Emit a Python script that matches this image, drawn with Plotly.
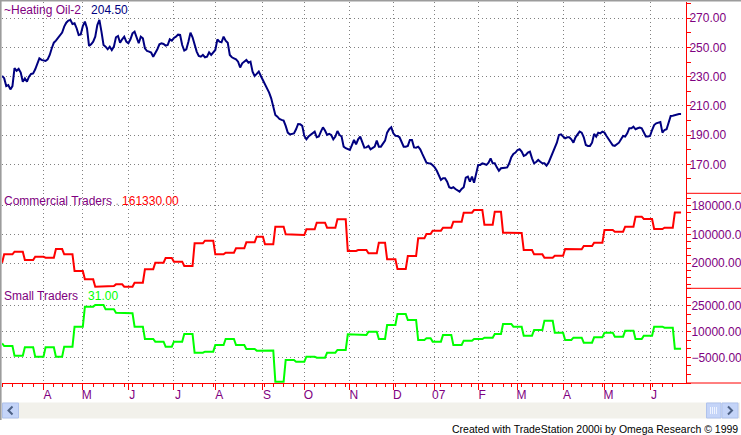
import numpy as np
import pandas as pd
import plotly.graph_objects as go

# ---------------- data ----------------
# daily Heating Oil #2 closes (cents/gal), one per trading day from 2006-03-06
heating_oil = [
    230.5, 229.0, 223.6, 224.3, 221.3, 223.6, 235.8, 234.0, 235.3, 232.8,
    226.6, 228.9, 226.6, 230.0, 231.9, 232.3, 235.1, 239.6, 242.6, 241.5,
    241.0, 240.8, 241.9, 244.9, 249.5, 253.3, 254.7, 256.3, 257.9, 260.2,
    264.3, 267.0, 268.4, 268.9, 266.1, 266.6, 263.2, 258.6, 259.0, 264.7,
    267.7, 263.2, 251.1, 252.2, 254.0, 257.4, 265.4, 268.9, 260.9, 251.7,
    250.6, 248.8, 250.6, 248.3, 250.6, 257.0, 257.9, 253.3, 255.6, 257.4,
    254.0, 252.9, 255.6, 259.7, 260.9, 257.4, 252.9, 257.4, 256.3, 249.5,
    247.6, 247.2, 246.5, 243.7, 246.0, 248.8, 252.2, 252.9, 252.4, 251.3,
    251.7, 255.6, 254.7, 256.5, 257.4, 258.8, 258.6, 251.7, 247.9, 248.8,
    254.0, 260.2, 257.0, 251.7, 247.2, 244.2, 243.7, 244.9, 243.3, 243.7,
    246.7, 244.9, 246.5, 248.3, 255.6, 254.0, 253.6, 257.4, 254.7, 253.3,
    244.9, 243.3, 242.6, 241.9, 240.3, 236.3, 239.2, 240.3, 241.5, 239.6,
    240.3, 233.5, 230.5, 231.9, 233.5, 230.5, 227.8, 225.5, 222.7, 219.1,
    215.2, 209.5, 203.8, 202.6, 201.0, 200.4, 199.9, 196.3, 191.7, 190.5,
    190.8, 191.2, 194.0, 197.6, 197.4, 196.3, 189.4, 187.1, 189.0, 190.1,
    191.7, 192.4, 188.5, 189.0, 192.4, 195.3, 193.1, 190.1, 190.8, 190.1,
    187.1, 189.0, 192.8, 190.1, 189.0, 182.1, 181.0, 180.3, 179.8, 183.2,
    186.7, 183.7, 187.1, 189.0, 185.5, 181.4, 181.6, 182.6, 180.3, 181.0,
    182.1, 186.2, 182.1, 182.1, 183.9, 186.2, 191.7, 194.0, 195.3, 191.2,
    189.6, 189.4, 188.5, 185.5, 182.1, 182.1, 182.6, 186.7, 186.7, 181.6,
    181.4, 182.1, 180.3, 177.1, 173.4, 171.1, 170.7, 170.5, 169.3, 167.9,
    165.6, 162.9, 159.3, 160.4, 160.4, 158.1, 154.3, 153.6, 154.3, 153.1,
    152.0, 151.3, 153.1, 154.3, 160.9, 161.6, 158.1, 161.6, 157.4, 163.8,
    169.6, 169.6, 170.7, 170.2, 169.6, 171.1, 174.1, 170.7, 170.7, 167.9,
    165.6, 167.3, 167.7, 167.7, 167.9, 170.7, 174.8, 177.1, 178.0, 179.8,
    180.3, 178.7, 175.7, 176.4, 178.0, 178.7, 174.1, 170.7, 171.6, 173.0,
    171.8, 170.7, 170.7, 169.1, 171.1, 174.8, 178.7, 182.1, 184.8, 190.1,
    190.5, 189.0, 187.8, 188.5, 188.5, 187.1, 184.8, 188.5, 190.5, 192.4,
    191.7, 188.5, 183.2, 182.6, 182.6, 184.8, 190.8, 189.0, 191.7, 191.2,
    192.4, 191.7, 189.4, 186.7, 185.1, 183.0, 182.6, 183.7, 184.8, 187.1,
    189.4, 189.0, 191.2, 194.7, 194.7, 195.8, 194.0, 194.7, 195.1, 194.7,
    191.7, 189.0, 189.0, 189.4, 193.5, 196.9, 198.1, 198.5, 199.0, 191.7,
    193.5, 194.0, 199.2, 203.1, 203.3, 203.8, 204.2, 204.5, 204.5,
]

# weekly COT net positions (first value = report in force at the start)
commercial_weekly = [
    20900, 44190, 51630, 28380, 37680, 34890, 59070, 44190, -2320, -25570,
    -46040, -44180, -39530, -46040, -34880, 2330, 20940, 33960, 23730, 11630,
    74890, 82330, 44190, 48840, 60930, 77680, 93490, 72100, 121400, 100000,
    98140, 113960, 132560, 118610, 141860, 53490, 56280, 46980, 76750, 30240,
    3260, 39540, 88840, 100930, 110240, 118610, 135350, 160470, 167910, 126980,
    163260, 104650, 103800, 56280, 44190, 34890, 40470, 59070, 58600, 67450,
    76750, 112100, 107440, 121400, 149300, 142790, 114890, 118610, 161330,
]
small_weekly = [
    3180, 1620, -4030, 850, -4610, 850, -4610, 1230, 12920, 24610,
    25580, 23050, 21100, 20710, 12920, 5710, 4160, 1230, 4160, 8640,
    -2270, -1690, 2210, 5710, 2210, -130, -1100, -1000, -19220, -6560,
    -7530, -4610, -5190, -2270, -710, 8440, 8050, 10000, 5710, 13900,
    20320, 16820, 5130, 6100, 4160, 8050, 2210, 4740, 5710, 6490,
    8640, 14480, 12920, 7660, 10970, 16430, 9420, 5130, 6490, 3570,
    6690, 9420, 7080, 10580, 5710, 7660, 12920, 12340, 31,
]

month_labels = ["A", "M", "J", "J", "A", "S", "O", "N", "D", "07", "F", "M", "A", "M", "J"]
price_ticks = [170, 190, 210, 230, 250, 270]
comm_ticks = [20000, 100000, 180000]
small_ticks = [-5000, 10000, 25000]

start_date = "2006-03-06"
holidays = ["2006-04-14", "2006-05-29", "2006-07-04", "2006-09-04", "2006-11-23",
            "2006-12-25", "2007-01-01", "2007-01-02", "2007-02-19", "2007-04-06",
            "2007-05-28"]

# ---------------- calendar ----------------
days = pd.bdate_range(start_date, periods=420)
days = days[~days.isin(pd.to_datetime(holidays))][:len(heating_oil)]
idx = np.arange(len(days))

mkey = days.year * 12 + days.month
month_starts = [i for i in range(1, len(days)) if mkey[i] != mkey[i - 1]]
wkey = (days - days[0]).days // 7
week_starts = [0] + [i for i in range(1, len(days)) if wkey[i] != wkey[i - 1]]

tuesdays = pd.date_range(days[0], days[-1], freq="W-TUE")
anchors = np.array([days.searchsorted(t, side="right") - 1 for t in tuesdays])
wk = np.searchsorted(anchors, idx, side="right")
commercial = np.array(commercial_weekly)[np.minimum(wk, len(commercial_weekly) - 1)]
small = np.array(small_weekly)[np.minimum(wk, len(small_weekly) - 1)]

# ---------------- geometry ----------------
W, H = 741, 435
L, R, T, B = 2, 686, 2, 383
def px_x(x):
    return (x - L) / (R - L)
def px_y(y):
    return (B - y) / (B - T)

sep1, sep2 = 193.3, 288.3
d1, d2 = px_y(sep1), px_y(sep2)

RED = "#FF0000"
PURPLE = "#800080"
GRID = "#808080"
FONT = "Liberation Sans, Arial, sans-serif"

fig = go.Figure()
fig.add_trace(go.Scatter(x=idx, y=heating_oil, mode="lines", yaxis="y",
                         line=dict(color="#000080", width=2), hoverinfo="skip"))
fig.add_trace(go.Scatter(x=idx, y=commercial, mode="lines", yaxis="y2",
                         line=dict(color=RED, width=2), hoverinfo="skip"))
fig.add_trace(go.Scatter(x=idx, y=small, mode="lines", yaxis="y3",
                         line=dict(color="#00FF00", width=2), hoverinfo="skip"))
# empty traces so that the tick-mark overlay axes get drawn
for xa, ya in (("x", "y4"), ("x", "y5"), ("x", "y6"), ("x2", "y3")):
    fig.add_trace(go.Scatter(x=[], y=[], xaxis=xa, yaxis=ya, mode="lines",
                             hoverinfo="skip", showlegend=False))

# label axes (no tick marks, so labels sit close to the scale line)
def yax(domain, rng, ticks, standoff):
    return dict(domain=domain, range=rng, side="right", anchor="x",
                automargin=False,
                tickmode="array", tickvals=ticks, tickformat=".2f",
                ticks="", ticklabelstandoff=standoff,
                showline=True, linecolor=RED, linewidth=1,
                showgrid=True, gridcolor=GRID, griddash="1px,3px", gridwidth=1,
                zeroline=False, fixedrange=True,
                tickfont=dict(family=FONT, size=12, color=PURPLE))

# tick-mark axes overlaying the label axes
def ytk(base, rng, ticks, minor_step):
    return dict(overlaying=base, range=rng, side="right", anchor="x",
                automargin=False, showticklabels=False, showgrid=False,
                showline=False, zeroline=False, fixedrange=True,
                tickmode="array", tickvals=ticks,
                ticks="outside", ticklen=4, tickwidth=1, tickcolor=RED,
                minor=dict(tickmode="linear", tick0=ticks[0], dtick=minor_step,
                           ticks="outside", ticklen=4, tickwidth=1,
                           tickcolor=RED, showgrid=False))

r1, r2, r3 = [150.14, 281.16], [-50520, 214560], [-20000, 35330]
xr = [-0.05, (R - L) / 2.07 - 0.05]

fig.update_layout(
    width=W, height=H, autosize=False,
    margin=dict(l=L, r=W - R, t=T, b=H - B, pad=0, autoexpand=False),
    paper_bgcolor="white", plot_bgcolor="white",
    showlegend=False, hovermode=False,
    xaxis=dict(domain=[0, 1], range=xr, anchor="y3", automargin=False,
               tickmode="array", tickvals=month_starts, ticktext=month_labels,
               ticks="", ticklabelshift=4, ticklabelstandoff=1,
               showline=True, linecolor=RED, linewidth=1,
               showgrid=True, gridcolor=GRID, griddash="1px,3px", gridwidth=1,
               zeroline=False, fixedrange=True,
               tickfont=dict(family=FONT, size=12, color=PURPLE)),
    xaxis2=dict(overlaying="x", range=xr, anchor="y3", automargin=False,
                showticklabels=False, showgrid=False, showline=False,
                zeroline=False, fixedrange=True,
                tickmode="array", tickvals=month_starts,
                ticks="outside", ticklen=6, tickwidth=1, tickcolor=RED,
                minor=dict(tickmode="array", tickvals=week_starts, ticks="outside",
                           ticklen=3, tickwidth=1, tickcolor=RED, showgrid=False)),
    yaxis=yax([d1, 1], r1, price_ticks, 0),
    yaxis2=yax([d2, d1], r2, comm_ticks, 2),
    yaxis3=yax([0, d2], r3, small_ticks, 2),
    yaxis4=ytk("y", r1, price_ticks, 10),
    yaxis5=ytk("y2", r2, comm_ticks, 20000),
    yaxis6=ytk("y3", r3, small_ticks, 5000),
)

shapes = []
# red axis extensions / panel separators in the scale area
for yy in (sep1, sep2):
    shapes.append(dict(type="line", xref="paper", yref="paper",
                       x0=px_x(R), x1=px_x(W + 2), y0=px_y(yy), y1=px_y(yy),
                       line=dict(color=RED, width=1)))
shapes.append(dict(type="line", xref="paper", yref="paper",
                   x0=px_x(R), x1=px_x(W + 2), y0=0, y1=0,
                   line=dict(color=RED, width=1)))
# window borders
shapes.append(dict(type="line", xref="paper", yref="paper",
                   x0=px_x(0), x1=px_x(W), y0=px_y(0.8), y1=px_y(0.8),
                   line=dict(color="#9C9C9C", width=1.6)))
shapes.append(dict(type="line", xref="paper", yref="paper",
                   x0=px_x(0.8), x1=px_x(0.8), y0=px_y(0), y1=px_y(420),
                   line=dict(color="#9C9C9C", width=1.6)))
# scrollbar
shapes.append(dict(type="rect", xref="paper", yref="paper",
                   x0=px_x(2), x1=px_x(740), y0=px_y(418.5), y1=px_y(402.5),
                   fillcolor="#F2F1EB", line=dict(width=0)))
for bx0, bx1 in ((2.5, 18.5), (722, 738)):
    shapes.append(dict(type="rect", xref="paper", yref="paper",
                       x0=px_x(bx0), x1=px_x(bx1), y0=px_y(418), y1=px_y(403),
                       fillcolor="#C4D4F8", line=dict(color="#AFC2EC", width=1)))
shapes.append(dict(type="rect", xref="paper", yref="paper",
                   x0=px_x(706.5), x1=px_x(721), y0=px_y(418), y1=px_y(403),
                   fillcolor="#C4D4F8", line=dict(color="#AFC2EC", width=1)))
for gx in (710.5, 712.5, 714.5, 716.5):
    shapes.append(dict(type="line", xref="paper", yref="paper",
                       x0=px_x(gx), x1=px_x(gx), y0=px_y(407), y1=px_y(414),
                       line=dict(color="#EEF3FF", width=1)))
def arrow(pts):
    return "M " + " L ".join(f"{px_x(a)},{px_y(b)}" for a, b in pts)
shapes.append(dict(type="path", xref="paper", yref="paper",
                   path=arrow([(12.5, 406.5), (8.5, 410.5), (12.5, 414.5)]),
                   line=dict(color="#4D6185", width=2)))
shapes.append(dict(type="path", xref="paper", yref="paper",
                   path=arrow([(728, 406.5), (732, 410.5), (728, 414.5)]),
                   line=dict(color="#4D6185", width=2)))
fig.update_layout(shapes=shapes)

SP = "&nbsp;"
ann = [
    dict(text=f"<span style='color:{PURPLE}'>~Heating Oil-2</span>{SP*3}"
              f"<span style='color:#000080'>{heating_oil[-1]:.2f}</span>",
         y=1.0),
    dict(text=f"<span style='color:{PURPLE}'>Commercial Traders</span>{SP}"
              f"<span style='color:#A0A0A0'>.</span>{SP}"
              f"<span style='color:{RED}'>{commercial[-1]:.2f}</span>",
         y=d1),
    dict(text=f"<span style='color:{PURPLE}'>Small Traders</span>{SP*3}"
              f"<span style='color:#00FF00'>{small[-1]:.2f}</span>",
         y=d2),
]
for a in ann:
    fig.add_annotation(xref="paper", yref="paper", x=0, xanchor="left",
                       yanchor="top", showarrow=False, xshift=0, yshift=1,
                       font=dict(family=FONT, size=12), **a)
fig.add_annotation(xref="paper", yref="paper", x=px_x(739.5), y=px_y(428.5),
                   xanchor="right", yanchor="middle", showarrow=False,
                   text="Created with TradeStation 2000i by Omega Research © 1999",
                   font=dict(family=FONT, size=10.5, color="black"))

fig.write_html(
    "out.html",
    config={"displayModeBar": False, "responsive": False},
    post_script="document.body.style.margin='0px';document.body.style.padding='0px';"
                "document.documentElement.style.overflow='hidden';",
)
